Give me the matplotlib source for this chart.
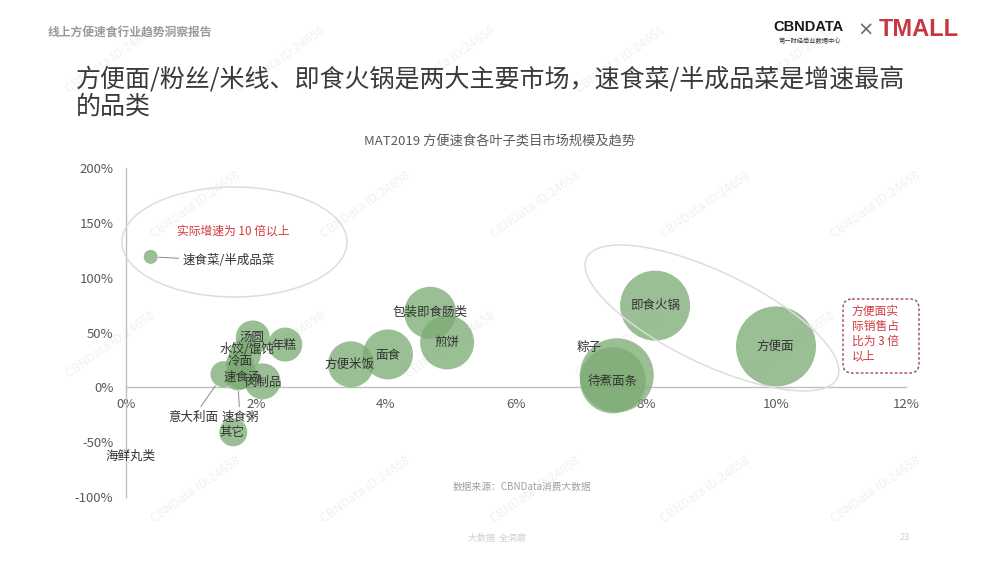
import matplotlib
matplotlib.use("Agg")
import matplotlib.pyplot as plt
from matplotlib.patches import Ellipse, FancyBboxPatch

plt.rcParams['font.family'] = ['Noto Sans CJK SC', 'DejaVu Sans']

# ---------------- data ----------------
categories = ['速食菜/半成品菜', '汤圆', '年糕', '水饺/馄饨', '冷面', '速食汤', '意大利面',
              '速食粥', '肉制品', '其它', '海鲜丸类', '方便米饭', '面食', '包装即食肠类',
              '煎饼', '粽子', '待煮面条', '即食火锅', '方便面']
market_share = [0.38, 1.95, 2.45, 1.83, 1.75, 1.78, 1.50,
                1.72, 2.10, 1.65, 0.03, 3.46, 4.03, 4.68,
                4.94, 7.55, 7.49, 8.14, 10.00]          # x, %
growth = [119, 45.5, 39, 30, 21, 12, 12,
          9, 5.5, -41, -58, 21, 30, 68,
          41, 11, 6.4, 74.5, 37.3]                       # y, %
bubble_size = [7, 17, 17, 16, 14, 15, 13,
               13, 18, 14, 1.5, 23, 25, 26,
               27, 37, 33, 35, 40]                       # relative bubble radius

x_ticks = [0, 2, 4, 6, 8, 10, 12]
y_ticks = [-100, -50, 0, 50, 100, 150, 200]

# label offsets in pixels (dx, dy up) and alignment
label_style = {
    '速食菜/半成品菜': (32, -4, 'left', True),
    '汤圆': (-1, 0, 'center', False),
    '年糕': (-1, -1, 'center', False),
    '水饺/馄饨': (2, 5, 'center', False),
    '冷面': (0, 3, 'center', False),
    '速食汤': (1, -3, 'center', False),
    '意大利面': (-30, -43, 'center', True),
    '速食粥': (2, -40, 'center', True),
    '肉制品': (1, -1, 'center', False),
    '其它': (-1, 0, 'center', False),
    '海鲜丸类': (3, -5, 'center', False),
    '方便米饭': (-1, 0, 'center', False),
    '面食': (0, -1, 'center', False),
    '包装即食肠类': (0, 0, 'center', False),
    '煎饼': (0, 0, 'center', False),
    '粽子': (-28, 28, 'center', False),
    '待煮面条': (0, -1, 'center', False),
    '即食火锅': (0, 0, 'center', False),
    '方便面': (-1, 0, 'center', False),
}

W, H = 1000, 563
fig = plt.figure(figsize=(10, 5.63), dpi=100)

def fx(px):
    return px / W

def fy(py):
    return 1 - py / H

# overlay in pixel coordinates for decorations
ov = fig.add_axes([0, 0, 1, 1])
ov.set_xlim(0, W)
ov.set_ylim(H, 0)
ov.axis('off')

# faint watermarks
wm_color = '#f1f1f1'
for row, yy in enumerate([60, 205, 345, 490]):
    shift = 0 if row % 2 == 0 else 85
    for k in range(5):
        xx = 110 + shift + 170 * k
        if xx > 910:
            continue
        ov.text(xx, yy, 'CBNData ID:24658', rotation=35, color=wm_color,
                fontsize=9, ha='center', va='center', zorder=0)

# header
fig.text(fx(48), fy(33), '线上方便速食行业趋势洞察报告', fontsize=8.5, color='#9a9a9a',
         fontweight='bold', ha='left', va='center')
fig.text(fx(773), fy(27), 'CBNDATA', fontsize=10.5, fontweight='bold', color='#1a1a1a',
         family=['Liberation Sans', 'DejaVu Sans'], ha='left', va='center')
fig.text(fx(810), fy(41), '第一财经商业数据中心', fontsize=4.5, color='#333333',
         ha='center', va='center')
fig.text(fx(866), fy(30), '×', fontsize=14, color='#666666', ha='center', va='center',
         family=['DejaVu Sans'])
fig.text(fx(879), fy(30), 'TMALL', fontsize=17, fontweight='bold', color='#c8363f',
         family=['Liberation Sans', 'DejaVu Sans'], ha='left', va='center')

# title
fig.text(fx(76), fy(80), '方便面/粉丝/米线、即食火锅是两大主要市场，速食菜/半成品菜是增速最高',
         fontsize=18, color='#3a3a3a', ha='left', va='center')
fig.text(fx(76), fy(107), '的品类', fontsize=18, color='#3a3a3a', ha='left', va='center')

# chart title
fig.text(fx(500), fy(142), 'MAT2019 方便速食各叶子类目市场规模及趋势', fontsize=9.5,
         color='#595959', ha='center', va='center')

# ---------------- chart ----------------
ax = fig.add_axes([0.126, 0.1172, 0.78, 0.5844])
ax.set_xlim(0, 12)
ax.set_ylim(-100, 200)
ax.patch.set_alpha(0)
for s in ['top', 'right']:
    ax.spines[s].set_visible(False)
ax.spines['left'].set_position(('data', 0))
ax.spines['bottom'].set_position(('data', 0))
for s in ['left', 'bottom']:
    ax.spines[s].set_color('#bfbfbf')
    ax.spines[s].set_linewidth(1)

ax.set_xticks(x_ticks)
ax.set_xticklabels([f'{v}%' for v in x_ticks])
ax.set_yticks(y_ticks)
ax.set_yticklabels([f'{v}%' for v in y_ticks])
ax.tick_params(axis='x', length=0, pad=8, labelsize=9.5, labelcolor='#595959')
ax.tick_params(axis='y', length=0, pad=9, labelsize=9.5, labelcolor='#595959')

px2pt = 72 / 100
sizes = [(2 * r * px2pt) ** 2 for r in bubble_size]
ax.scatter(market_share, growth, s=sizes, color='#7aaa72', alpha=0.75,
           edgecolors='none', zorder=3)

for name, xv, yv, r in zip(categories, market_share, growth, bubble_size):
    dx, dy, ha, leader = label_style[name]
    kw = dict(xy=(xv, yv), xytext=(dx * px2pt, dy * px2pt), textcoords='offset points',
              ha=ha, va='center', fontsize=9, color='#333333', zorder=5)
    if leader:
        kw['arrowprops'] = dict(arrowstyle='-', color='#8c8c8c', lw=0.7,
                                shrinkA=1, shrinkB=(r + 1) * px2pt)
    ax.annotate(name, **kw)

# annotations (pixel overlay on top)
ov2 = fig.add_axes([0, 0, 1, 1])
ov2.set_xlim(0, W)
ov2.set_ylim(H, 0)
ov2.axis('off')
ov2.patch.set_alpha(0)

ov2.add_patch(Ellipse((234.5, 242), 225, 110, fill=False, edgecolor='#dddddd', lw=1.1))
ov2.add_patch(Ellipse((712, 318), 278, 92, angle=25.6, fill=False,
                      edgecolor='#dddddd', lw=1.1))
ov2.text(233, 231, '实际增速为 10 倍以上', fontsize=8.5, color='#d33a3f',
         ha='center', va='center')

ov2.add_patch(FancyBboxPatch((843, 299), 76, 74, boxstyle='round,pad=0,rounding_size=9',
                             fill=False, edgecolor='#9c4a4f', lw=1, linestyle=(0, (2, 1.5))))
ov2.text(852, 334, '方便面实\n际销售占\n比为 3 倍\n以上', fontsize=8.5, color='#d33a3f',
         ha='left', va='center', linespacing=1.2)

# footer
fig.text(fx(522), fy(487), '数据来源：CBNData消费大数据', fontsize=7, color='#a0a0a0',
         ha='center', va='center')
fig.text(fx(497), fy(538), '大数据  全洞察', fontsize=6.5, color='#cfcfcf',
         ha='center', va='center')
fig.text(fx(905), fy(538), '23', fontsize=6.5, color='#cfcfcf', ha='center', va='center')

fig.savefig('out.png', dpi=100)
